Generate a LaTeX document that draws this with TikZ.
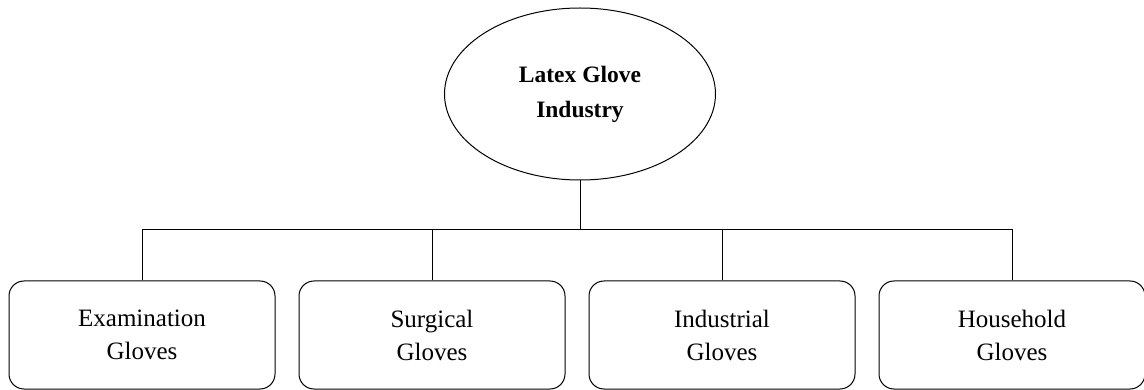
\documentclass[tikz,border=0pt]{standalone}
\usepackage{fontspec}
\setmainfont{Liberation Serif}
\usetikzlibrary{positioning,shapes.geometric}

\begin{document}
\begin{tikzpicture}[
  x=1pt, y=-1pt,
  node distance=23pt,
  every node/.style={font=\fontsize{25}{33}\selectfont},
  topnode/.style={draw, ellipse, line width=1pt, minimum width=271pt, minimum height=172pt, align=center, font=\bfseries\fontsize{23.5}{35}\selectfont},
  box/.style={draw, line width=1pt, rounded corners=15pt, minimum width=266pt, minimum height=108pt, align=center},
  link/.style={line width=1pt}
]
\useasboundingbox (0,0) rectangle (1144,390);

\node[topnode] (glove) at (580,94) {Latex Glove\\Industry};
\node[box] (exam) at (142,335) {Examination\\Gloves};
\node[box, right=of exam] (surg) {Surgical\\Gloves};
\node[box, right=of surg] (indus) {Industrial\\Gloves};
\node[box, right=of indus] (house) {Household\\Gloves};

\path (exam.north) ++(0,-51) coordinate (bus);
\draw[link] (exam.north) -- (exam.north |- bus) -- (house.north |- bus) -- (house.north);
\draw[link] (glove.south) -- (glove.south |- bus);
\draw[link] (surg.north) -- (surg.north |- bus);
\draw[link] (indus.north) -- (indus.north |- bus);
\end{tikzpicture}
\end{document}
